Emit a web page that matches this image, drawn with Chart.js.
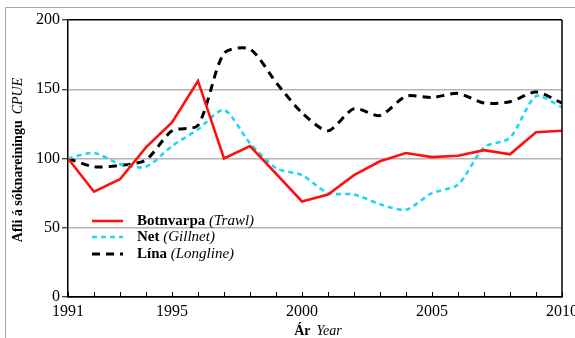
<!DOCTYPE html>
<html>
<head>
<meta charset="utf-8">
<script src="https://cdn.jsdelivr.net/npm/chart.js@4.4.1/dist/chart.umd.min.js"></script>
<style>
  html, body { margin: 0; padding: 0; background: #fff; overflow: hidden; }
  #wrap { position: relative; width: 575px; height: 338px; }
  #frame { position: absolute; left: 5px; top: 7px; width: 600px; height: 400px;
           border: 1px solid #a8a8a8; box-sizing: border-box; pointer-events: none; }
  canvas { position: absolute; left: 0; top: 0; }
</style>
</head>
<body>
<div id="wrap">
  <div id="frame"></div>
  <canvas id="c" width="575" height="338"></canvas>
</div>
<script>
// Catch per unit effort index (1991 = 100) by gear
const years = [1991, 1992, 1993, 1994, 1995, 1996, 1997, 1998, 1999, 2000,
               2001, 2002, 2003, 2004, 2005, 2006, 2007, 2008, 2009, 2010];
const botnvarpa = [100, 76, 85, 108, 126, 156, 100, 109, 89, 69,
                   74, 88, 98, 104, 101, 102, 106, 103, 119, 120];
const net = [100, 104, 96, 94, 109, 121, 135, 111, 93, 88,
             75, 74, 67, 63, 75, 81, 108, 115, 145, 137];
const lina = [100, 94, 95, 99, 120, 124, 176, 179, 155, 133,
              120, 136, 131, 145, 144, 147, 140, 141, 148, 140];
const xTickLabels = [1991, 1995, 2000, 2005, 2010];
const yTicks = [0, 50, 100, 150, 200];

const serif = "'Liberation Serif', 'Times New Roman', serif";
const RED = '#ff1010';
const CYAN = '#1fd6f2';
const BLACK = '#000000';

const toPoints = arr => years.map((yr, i) => ({ x: yr, y: arr[i] }));

const series = [
  { name: 'Botnvarpa', en: '(Trawl)', data: botnvarpa, color: RED, width: 2.6, dash: [], tension: 0 },
  { name: 'Net', en: '(Gillnet)', data: net, color: CYAN, width: 2.6, dash: [5, 4], tension: 0.25 },
  { name: 'Lína', en: '(Longline)', data: lina, color: BLACK, width: 3, dash: [8, 6], tension: 0.25 }
];

// Axis titles, legend, inward year ticks and right border
const decorations = {
  id: 'decorations',
  afterDraw(chart) {
    const ctx = chart.ctx;
    const area = chart.chartArea;
    const xs = chart.scales.x;

    ctx.save();
    // right border of the plot
    ctx.strokeStyle = '#000';
    ctx.lineWidth = 1.5;
    ctx.beginPath();
    ctx.moveTo(area.right, area.top);
    ctx.lineTo(area.right, area.bottom);
    ctx.stroke();

    // inward minor ticks for every year
    ctx.lineWidth = 1;
    ctx.beginPath();
    years.forEach(yr => {
      const px = Math.round(xs.getPixelForValue(yr)) + 0.5;
      ctx.moveTo(px, area.bottom);
      ctx.lineTo(px, area.bottom - 5);
    });
    ctx.stroke();

    // legend
    const lx0 = 92, lx1 = 123, tx = 137;
    const rows = [221, 237, 254];
    series.forEach((s, i) => {
      const y = rows[i];
      ctx.strokeStyle = s.color;
      ctx.lineWidth = s.width;
      ctx.setLineDash(s.dash);
      ctx.beginPath();
      ctx.moveTo(lx0, y);
      ctx.lineTo(lx1, y);
      ctx.stroke();
      ctx.setLineDash([]);
      ctx.fillStyle = '#000';
      ctx.textBaseline = 'middle';
      ctx.textAlign = 'left';
      ctx.font = 'bold 15px ' + serif;
      ctx.fillText(s.name, tx, y);
      const w = ctx.measureText(s.name + ' ').width;
      ctx.font = 'italic 15px ' + serif;
      ctx.fillText(s.en, tx + w, y);
    });

    // x-axis title: "Ár Year"
    ctx.textBaseline = 'middle';
    ctx.textAlign = 'left';
    ctx.font = 'bold 14px ' + serif;
    const a = 'Ár';
    const aw = ctx.measureText(a).width;
    ctx.font = 'italic 14px ' + serif;
    const b = 'Year';
    const bw = ctx.measureText(b).width;
    const gap = 6;
    let sx = 318 - (aw + gap + bw) / 2;
    ctx.font = 'bold 14px ' + serif;
    ctx.fillText(a, sx, 331);
    ctx.font = 'italic 14px ' + serif;
    ctx.fillText(b, sx + aw + gap, 331);

    // y-axis title, rotated
    ctx.translate(18, 160);
    ctx.rotate(-Math.PI / 2);
    ctx.font = 'bold 14px ' + serif;
    const c = 'Afli á sóknareiningu';
    const cw = ctx.measureText(c).width;
    ctx.font = 'italic 14px ' + serif;
    const d = 'CPUE';
    const dw = ctx.measureText(d).width;
    let sy = -(cw + gap + dw) / 2;
    ctx.font = 'bold 14px ' + serif;
    ctx.fillText(c, sy, 0);
    ctx.font = 'italic 14px ' + serif;
    ctx.fillText(d, sy + cw + gap, 0);
    ctx.restore();
  }
};

new Chart(document.getElementById('c'), {
  type: 'line',
  data: {
    datasets: series.map(s => ({
      label: s.name,
      data: toPoints(s.data),
      borderColor: s.color,
      borderWidth: s.width,
      borderDash: s.dash,
      tension: s.tension,
      pointRadius: 0,
      fill: false
    }))
  },
  options: {
    responsive: false,
    animation: false,
    devicePixelRatio: 1,
    layout: { padding: { top: 20, right: 13, left: 0, bottom: 0 } },
    plugins: { legend: { display: false }, tooltip: { enabled: false } },
    scales: {
      x: {
        type: 'linear',
        min: 1991,
        max: 2010,
        afterBuildTicks: scale => { scale.ticks = years.map(v => ({ value: v })); },
        ticks: {
          autoSkip: false,
          maxRotation: 0,
          padding: 5,
          color: '#000',
          font: { family: serif, size: 16 },
          callback: v => xTickLabels.includes(v) ? String(v) : ''
        },
        grid: { drawOnChartArea: false, drawTicks: false },
        border: { display: true, color: '#000', width: 1.5 },
        afterFit: scale => {
          scale.height = 41;
          scale.paddingLeft = 0;
          scale.paddingRight = 0;
        }
      },
      y: {
        min: 0,
        max: 200,
        afterBuildTicks: scale => { scale.ticks = yTicks.map(v => ({ value: v })); },
        ticks: {
          padding: 2,
          color: '#000',
          font: { family: serif, size: 16 }
        },
        grid: {
          color: c => (c.tick && (c.tick.value === 200 || c.tick.value === 0)) ? '#000' : '#b4b4b4',
          lineWidth: c => (c.tick && (c.tick.value === 200 || c.tick.value === 0)) ? 1.5 : 1.5,
          tickColor: '#000',
          tickLength: 6,
          tickWidth: 1
        },
        border: { display: true, color: '#000', width: 1.5 },
        afterFit: scale => {
          scale.width = 68;
          scale.paddingTop = 0;
          scale.paddingBottom = 0;
        }
      }
    }
  },
  plugins: [decorations]
});
</script>
</body>
</html>
